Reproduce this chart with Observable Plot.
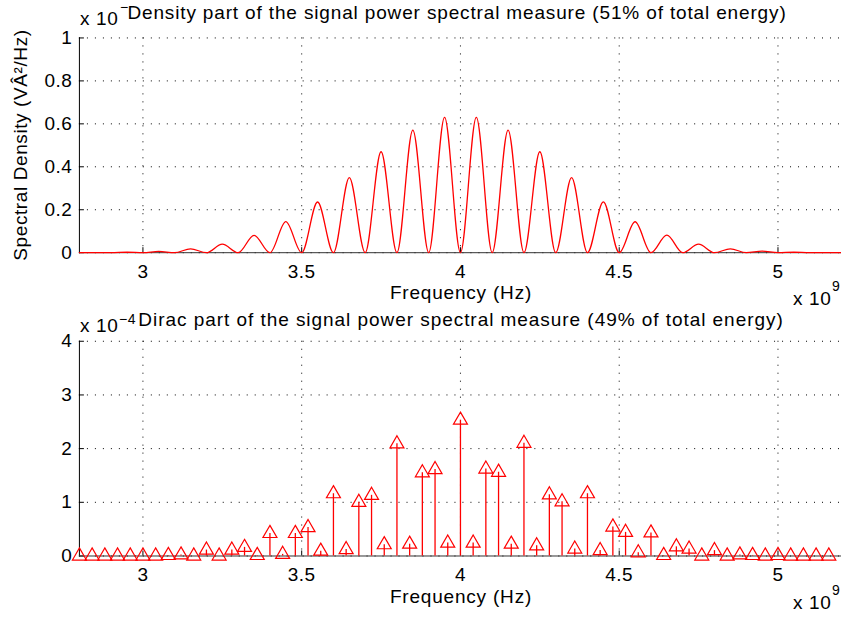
<!DOCTYPE html>
<html>
<head>
<meta charset="utf-8">
<script src="https://cdn.jsdelivr.net/npm/d3@7"></script>
<script src="https://cdn.jsdelivr.net/npm/@observablehq/plot@0.6"></script>
<style>
  html, body { margin: 0; padding: 0; background: #fff; overflow: hidden; }
  #fig { position: relative; width: 841px; height: 622px; overflow: hidden; background: #fff; }
  #fig svg { position: absolute; left: 0; }
</style>
</head>
<body>
<div id="fig"></div>
<script>
// Frequency axis, in units of 1e9 Hz
const xDomain = [2.8, 5.2];
const xTicks = [3, 3.5, 4, 4.5, 5];

// Density part: nulls of the spectrum and the lobe maxima between them
const nullFreqs = [2.8, 2.9, 3.0, 3.1, 3.2, 3.3, 3.4, 3.5, 3.6, 3.7, 3.8, 3.9, 4.0,
                   4.1, 4.2, 4.3, 4.4, 4.5, 4.6, 4.7, 4.8, 4.9, 5.0, 5.1, 5.2];
const lobeFreqs = [2.85, 2.95, 3.05, 3.15, 3.25, 3.35, 3.45, 3.55, 3.65, 3.75, 3.85, 3.95,
                   4.05, 4.15, 4.25, 4.35, 4.45, 4.55, 4.65, 4.75, 4.85, 4.95, 5.05, 5.15];
const lobePeaks = [0.0005, 0.002, 0.006, 0.018, 0.040, 0.081, 0.145, 0.236, 0.350, 0.470, 0.571, 0.630,
                   0.630, 0.571, 0.470, 0.350, 0.237, 0.144, 0.082, 0.040, 0.018, 0.007, 0.002, 0.0005];
const densityTicks = [0, 0.2, 0.4, 0.6, 0.8, 1];

// Dirac part: spectral lines every 40 MHz (units of 1e-4)
const diracFreqs = [2.80, 2.84, 2.88, 2.92, 2.96, 3.00, 3.04, 3.08, 3.12, 3.16,
                    3.20, 3.24, 3.28, 3.32, 3.36, 3.40, 3.44, 3.48, 3.52, 3.56,
                    3.60, 3.64, 3.68, 3.72, 3.76, 3.80, 3.84, 3.88, 3.92, 3.96,
                    4.00, 4.04, 4.08, 4.12, 4.16, 4.20, 4.24, 4.28, 4.32, 4.36,
                    4.40, 4.44, 4.48, 4.52, 4.56, 4.60, 4.64, 4.68, 4.72, 4.76,
                    4.80, 4.84, 4.88, 4.92, 4.96, 5.00, 5.04, 5.08, 5.12, 5.16];
const diracValues = [0, 0, 0, 0, 0, 0, 0, 0.01, 0.02, 0,
                     0.11, 0, 0.11, 0.16, 0.01, 0.42, 0.03, 0.42, 0.53, 0.09,
                     1.16, 0.12, 1.00, 1.13, 0.21, 2.09, 0.22, 1.55, 1.61, 0.24,
                     2.53, 0.24, 1.62, 1.56, 0.22, 2.10, 0.19, 1.14, 1.01, 0.13,
                     1.16, 0.10, 0.54, 0.44, 0.06, 0.43, 0.01, 0.17, 0.13, 0,
                     0.10, 0, 0.02, 0.01, 0, 0.01, 0, 0, 0, 0];
const diracTicks = [0, 1, 2, 3, 4];

// Rows for the marks
const densityRows = nullFreqs.map(f => ({f, v: 0}))
  .concat(lobeFreqs.map((f, i) => ({f, v: lobePeaks[i]})))
  .sort((a, b) => a.f - b.f);
const diracRows = diracFreqs.map((f, i) => ({f, v: diracValues[i]}));

const FONT = '"Liberation Sans", Arial, Helvetica, sans-serif';
const RED = "#ff0000";
const W = 842, LEFT = 79, PLOT_H = 215;

function panel({height, marginTop, yDomain, yTicks, marks}) {
  const marginBottom = height - marginTop - PLOT_H;
  const dots = {stroke: "#000", strokeOpacity: 1, strokeWidth: 1, strokeDasharray: "1,7"};
  return Plot.plot({
    width: W, height,
    marginLeft: LEFT, marginRight: 0, marginTop, marginBottom,
    style: {fontFamily: FONT, fontSize: "19px", letterSpacing: "0.5px", background: "transparent", color: "#000", overflow: "visible"},
    x: {domain: xDomain, ticks: xTicks, tickSize: 0, tickPadding: 12, tickFormat: d3.format("~g"), label: null},
    y: {domain: yDomain, ticks: yTicks, tickSize: 0, tickPadding: 7, tickFormat: d3.format("~g"), label: null},
    marks: [
      Plot.ruleX(xTicks, dots),
      Plot.ruleY(yTicks, dots),
      Plot.ruleX(xTicks, {stroke: "#000", insetTop: PLOT_H - 5}),
      Plot.ruleY(yTicks, {stroke: "#000", insetRight: W - LEFT - 5}),
      Plot.ruleX([xDomain[0]], {stroke: "#000"}),
      Plot.ruleY([0], {stroke: "#333"}),
      ...marks
    ]
  });
}

const fig = document.getElementById("fig");

const topChart = panel({
  height: 304, marginTop: 37.5, yDomain: [0, 1], yTicks: densityTicks,
  marks: [
    Plot.line(densityRows, {x: "f", y: "v", curve: "monotone-x", stroke: RED, strokeWidth: 1.3})
  ]
});
topChart.style.top = "0px";
fig.appendChild(topChart);

const bottomChart = panel({
  height: 318, marginTop: 36.8, yDomain: [0, 4], yTicks: diracTicks,
  marks: [
    Plot.ruleX(diracRows, {x: "f", y1: 0, y2: "v", stroke: RED, strokeWidth: 1.3}),
    Plot.dot(diracRows, {x: "f", y: "v", symbol: "triangle", r: 5.2, stroke: RED, fill: "none", strokeWidth: 1.2})
  ]
});
bottomChart.style.top = "304px";
fig.appendChild(bottomChart);

// Titles, axis labels and scale multipliers
const notes = d3.select(fig).append("svg")
  .attr("width", 841).attr("height", 622)
  .style("top", "0px")
  .style("font-family", FONT)
  .style("overflow", "visible");

function note(x, y, text, {size = 19, anchor = "start", rotate = 0, spacing = 0.6} = {}) {
  notes.append("text")
    .attr("transform", `translate(${x},${y}) rotate(${rotate})`)
    .attr("text-anchor", anchor)
    .attr("font-size", size)
    .attr("letter-spacing", spacing)
    .attr("fill", "#000")
    .text(text);
}

// top panel
note(80, 25, "x 10");
note(120, 12, "\u2212", {size: 14});
note(457, 19, "Density part of the signal power spectral measure (51% of total energy)", {anchor: "middle", spacing: 0.85});
note(27, 145, "Spectral Density (V\u00C2\u00B2/Hz)", {anchor: "middle", rotate: -90});
note(461, 299, "Frequency (Hz)", {anchor: "middle", spacing: 0.8});
note(793, 305, "x 10");
note(832, 291, "9", {size: 14});

// bottom panel
note(80, 332, "x 10");
note(119, 324, "\u22124", {size: 14});
note(461, 326, "Dirac part of the signal power spectral measure (49% of total energy)", {anchor: "middle", spacing: 0.95});
note(461, 603, "Frequency (Hz)", {anchor: "middle", spacing: 0.8});
note(793, 609, "x 10");
note(832, 595, "9", {size: 14});
</script>
</body>
</html>
